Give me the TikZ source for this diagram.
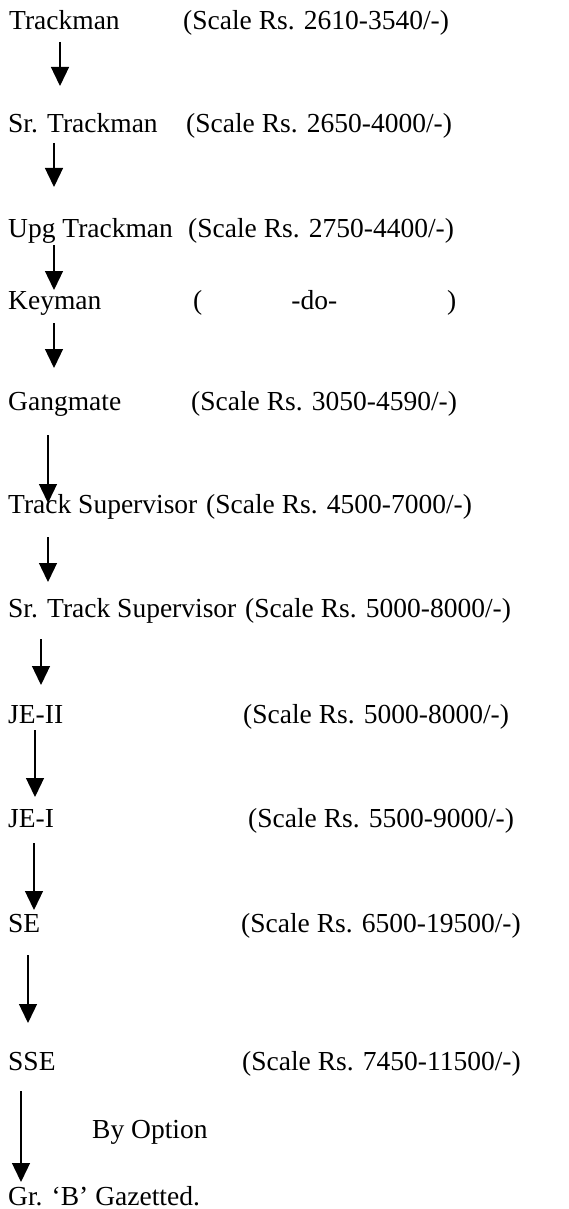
\documentclass[tikz,border=0pt]{standalone}
\usepackage{fontspec}
\setmainfont{Liberation Serif}
\usetikzlibrary{arrows.meta}

\tikzset{
    post/.style={anchor=base west, inner sep=0pt, font=\fontsize{27.5}{33}\selectfont},
    promo/.style={line width=1.3pt, -{Triangle[width=18pt,length=19pt]}}
}

\begin{document}
\begin{tikzpicture}[x=1pt,y=-1pt]
            \useasboundingbox (0,0) rectangle (568,1209);

            % posts
            \node[post] (tm)   at (9,30)   {Trackman};
            \node[post] (srtm) at (8,133)  {Sr. Trackman};
            \node[post] (upg)  at (8,237)  {Upg Trackman};
            \node[post] (key)  at (8,309)  {Keyman};
            \node[post] (gm)   at (8,410)  {Gangmate};
            \node[post] (ts)   at (8,513)  {Track Supervisor};
            \node[post] (srts) at (8,617)  {Sr. Track Supervisor};
            \node[post] (je2)  at (8,723)  {JE-II};
            \node[post] (je1)  at (8,827)  {JE-I};
            \node[post] (se)   at (8,932)  {SE};
            \node[post] (sse)  at (8,1070) {SSE};
            \node[post] (grb)  at (8,1205) {Gr. `B' Gazetted.};

            % scales
            \node[post] (tmsc)   at (183,30)   {(Scale Rs. 2610-3540/-)};
            \node[post] (srtmsc) at (186,133)  {(Scale Rs. 2650-4000/-)};
            \node[post] (upgsc)  at (188,237)  {(Scale Rs. 2750-4400/-)};
            \node[post] (keysc)  at (193,309)  {(\hspace{89pt}-do-\hspace{110pt})};
            \node[post] (gmsc)   at (191,410)  {(Scale Rs. 3050-4590/-)};
            \node[post] (tssc)   at (206,513)  {(Scale Rs. 4500-7000/-)};
            \node[post] (srtssc) at (245,617)  {(Scale Rs. 5000-8000/-)};
            \node[post] (je2sc)  at (243,723)  {(Scale Rs. 5000-8000/-)};
            \node[post] (je1sc)  at (248,827)  {(Scale Rs. 5500-9000/-)};
            \node[post] (sesc)   at (241,932)  {(Scale Rs. 6500-19500/-)};
            \node[post] (ssesc)  at (242,1070) {(Scale Rs. 7450-11500/-)};

            \node[post] (opt) at (92,1138) {By Option};

            % arrows
            \foreach \x/\ya/\yb [count=\i] in {60/42/86, 54/143/187, 54/245/290,
                    54/323/368, 48/435/503, 48/537/582, 41/639/685, 35/730/797,
                    34/843/910, 28/955/1023, 21/1091/1182}{
                \coordinate (s\i) at (\x,\ya);
                \coordinate (e\i) at (\x,\yb);
                \draw[promo] (s\i) -- (e\i);
            }
        \end{tikzpicture}
\end{document}
